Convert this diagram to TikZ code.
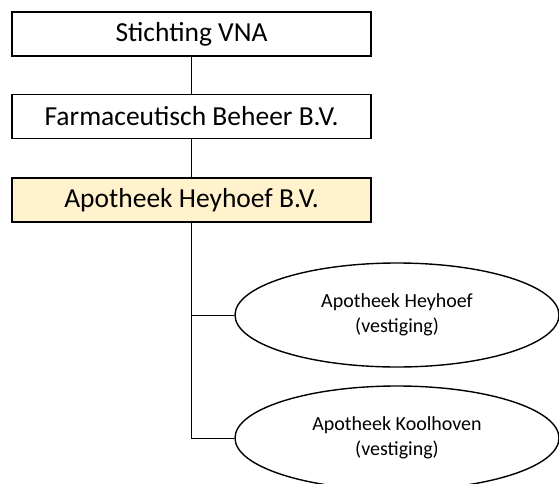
\documentclass[tikz,border=0pt]{standalone}
\usepackage{fontspec}
\setmainfont{Carlito}
\usetikzlibrary{shapes.geometric,positioning}
\begin{document}
\begin{tikzpicture}[
    x=1pt, y=-1pt,
    entity/.style={rectangle, draw, line width=1.6pt, minimum width=359pt, minimum height=44pt, inner sep=0pt, font=\fontsize{27.5}{31}\selectfont},
    branch/.style={ellipse, draw, line width=1.4pt, minimum width=324pt, minimum height=104pt, inner sep=0pt, align=center, font=\fontsize{20}{25}\selectfont},
    link/.style={draw, line width=0.8pt}
  ]
    \useasboundingbox (0,0) rectangle (559,484);
    \clip (0,0) rectangle (559,484);
    \node [entity] (vna) at (191.5,34) {Stichting VNA};
    \node [entity] (beheer) at (191.5,116.5) {Farmaceutisch Beheer B.V.};
    \node [entity, fill={rgb,255:red,255;green,242;blue,204}] (heyhoefbv) at (191.5,200) {Apotheek Heyhoef B.V.};
    \node [branch] (heyhoef) at (397,315) {Apotheek Heyhoef\\(vestiging)};
    \node [branch] (koolhoven) at (397,438) {Apotheek Koolhoven\\(vestiging)};

    \path [link] (vna) -- (beheer);
    \path [link] (beheer) -- (heyhoefbv);
    \path [link] (heyhoefbv.south) |- (heyhoef.west);
    \path [link] (heyhoefbv.south) |- (koolhoven.west);
\end{tikzpicture}
\end{document}
